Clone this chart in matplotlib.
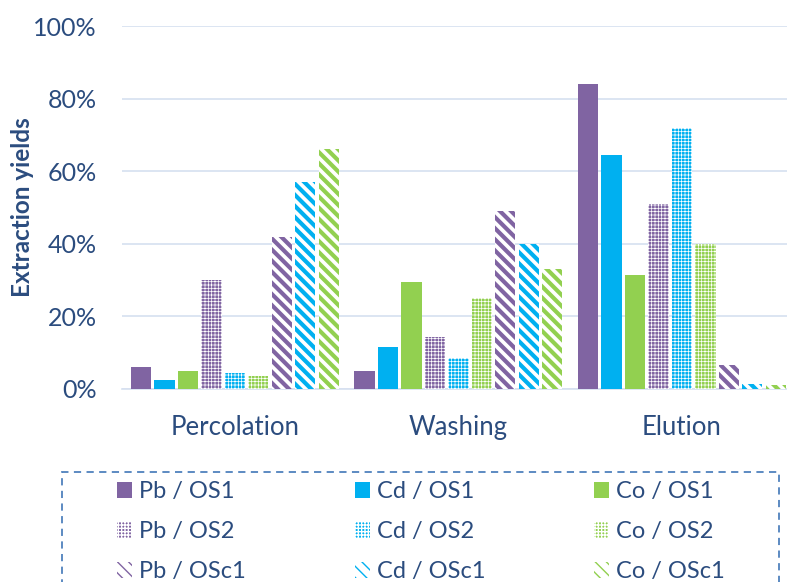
import matplotlib
matplotlib.use("Agg")
import matplotlib.pyplot as plt
import numpy as np
from matplotlib.patches import Patch, Rectangle

categories = ["Percolation", "Washing", "Elution"]
series_names = ["Pb / OS1", "Cd / OS1", "Co / OS1",
                "Pb / OS2", "Cd / OS2", "Co / OS2",
                "Pb / OSc1", "Cd / OSc1", "Co / OSc1"]
pb_os1 = [6.0, 5.0, 84.0]
cd_os1 = [2.5, 11.6, 64.4]
co_os1 = [5.0, 29.6, 31.5]
pb_os2 = [30.0, 14.4, 51.0]
cd_os2 = [4.4, 8.5, 72.0]
co_os2 = [3.6, 25.0, 40.0]
pb_osc1 = [42.0, 49.0, 6.5]
cd_osc1 = [57.0, 40.0, 1.5]
co_osc1 = [66.0, 33.0, 1.0]
values = [pb_os1, cd_os1, co_os1, pb_os2, cd_os2, co_os2, pb_osc1, cd_osc1, co_osc1]

PURPLE = "#8064A2"
BLUE = "#00B0F0"
GREEN = "#92D050"
TEXT = "#2B4C7E"
colors = [PURPLE, BLUE, GREEN] * 3
styles = ["solid"] * 3 + ["dots"] * 3 + ["stripes"] * 3

plt.rcParams['font.family'] = ['Lato', 'DejaVu Sans']

fig = plt.figure(figsize=(7.87, 5.82), dpi=100)
ax = fig.add_axes([122 / 787, 1 - 389 / 582, 1 - 122 / 787, (389 - 26) / 582])

x = np.arange(len(categories))
slot = 0.105
barw = slot * 0.86
handles = []
for i, (name, vals, col, st) in enumerate(zip(series_names, values, colors, styles)):
    pos = x + (i - 4) * slot
    if st == "solid":
        ax.bar(pos, vals, barw, color=col, linewidth=0, zorder=3)
        handles.append(Patch(facecolor=col, linewidth=0))
    elif st == "dots":
        with plt.rc_context({'hatch.linewidth': 0.5}):
            ax.bar(pos, vals, barw, facecolor=col, edgecolor="white", hatch="+++++", linewidth=0, zorder=3)
            handles.append(Patch(facecolor=col, edgecolor="white", hatch="+++++", linewidth=0))
    else:
        with plt.rc_context({'hatch.linewidth': 3.0}):
            ax.bar(pos, vals, barw, facecolor="white", edgecolor=col, hatch="\\\\\\", linewidth=0, zorder=3)
            handles.append(Patch(facecolor="white", edgecolor=col, hatch="\\\\\\", linewidth=0))

ax.set_ylim(0, 100)
ax.set_xlim(-0.505, 2.47)
ax.set_yticks(np.arange(0, 101, 20))
ax.set_yticklabels([f"{v}%" for v in range(0, 101, 20)])
ax.set_xticks(x)
ax.set_xticklabels(categories)
ax.yaxis.grid(True, color="#D6E0F0", linewidth=1.2, zorder=0)
ax.set_axisbelow(True)
for s in ["top", "right", "left"]:
    ax.spines[s].set_visible(False)
ax.spines["bottom"].set_color("#D6E0F0")
ax.spines["bottom"].set_linewidth(1.2)
ax.tick_params(axis="both", length=0, labelsize=18, colors=TEXT)
ax.tick_params(axis="x", labelsize=18.5, pad=19)
ax.tick_params(axis="y", pad=18)
ax.set_ylabel("Extraction yields", fontsize=17.5, fontweight="bold", color=TEXT)
ax.yaxis.set_label_coords((34 - 122) / 665, 0.5)

# legend: columns Pb / Cd / Co, rows OS1 / OS2 / OSc1
order = [0, 3, 6, 1, 4, 7, 2, 5, 8]
leg = fig.legend([handles[k] for k in order], [series_names[k] for k in order],
                 ncol=3, loc="upper left",
                 bbox_to_anchor=(117 / 787, 1 - 482 / 582, (725 - 117) / 787, 0.001),
                 mode="expand", frameon=False, fontsize=17, handlelength=0.65,
                 handleheight=0.65, handletextpad=0.3, labelspacing=0.8,
                 borderpad=0, borderaxespad=0)
for t in leg.get_texts():
    t.set_color(TEXT)

frame = Rectangle((62 / 787, -0.1), (779 - 62) / 787, 0.1 + (582 - 472) / 582,
                  transform=fig.transFigure, fill=False, edgecolor="#4F81BD",
                  linewidth=1.3, linestyle=(0, (4, 3)), clip_on=False)
fig.add_artist(frame)

fig.savefig("out.png", dpi=100)
